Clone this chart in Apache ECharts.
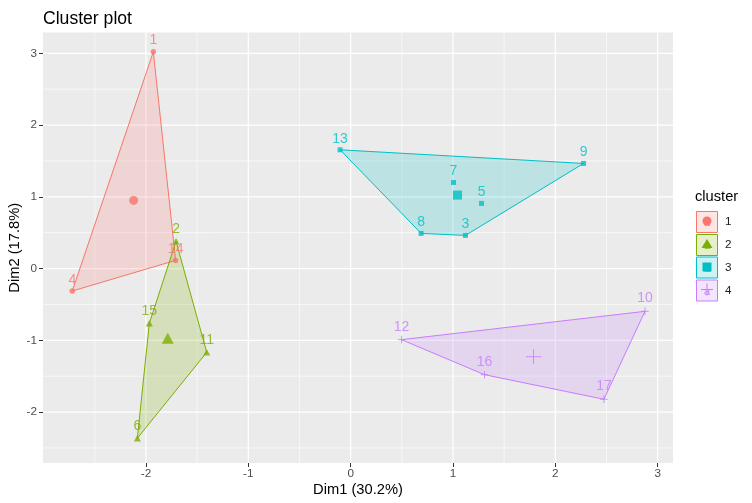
<!DOCTYPE html>
<html><head><meta charset="utf-8">
<script src="https://cdn.jsdelivr.net/npm/echarts@6/dist/echarts.min.js"></script>
<style>html,body{margin:0;padding:0;background:#fff}#c{width:752px;height:503px}</style>
</head><body><div id="c"></div>
<script>
// ---- data ----
const clusterIds = ['1', '2', '3', '4'];
const names1 = ['1', '4', '14'];
const x1 = [-1.928, -2.72, -1.71];
const y1 = [3.02, -0.313, 0.114];
const names2 = ['2', '15', '11', '6'];
const x2 = [-1.706, -1.967, -1.406, -2.084];
const y2 = [0.379, -0.763, -1.167, -2.365];
const names3 = ['13', '9', '7', '5', '8', '3'];
const x3 = [-0.103, 2.276, 1.005, 1.279, 0.689, 1.122];
const y3 = [1.655, 1.465, 1.20, 0.908, 0.49, 0.462];
const names4 = ['12', '10', '16', '17'];
const x4 = [0.497, 2.876, 1.308, 2.475];
const y4 = [-0.991, -0.596, -1.479, -1.822];
const centerX = [-2.12, -1.787, 1.044, 1.787];
const centerY = [0.95, -0.972, 1.024, -1.228];
const xTicks = [-2, -1, 0, 1, 2, 3];
const yTicks = [-2, -1, 0, 1, 2, 3];
const xMinor = [-2.5, -1.5, -0.5, 0.5, 1.5, 2.5];
const yMinor = [-2.5, -1.5, -0.5, 0.5, 1.5, 2.5];
const xTitle = 'Dim1 (30.2%)';
const yTitle = 'Dim2 (17.8%)';
const chartTitle = 'Cluster plot';
const legendTitle = 'cluster';

// ---- styling ----
const colors = ['#F8766D', '#7CAE00', '#00BFC4', '#C77CFF'];
const FONT = '"Liberation Sans", Arial, sans-serif';
const plusPath = 'path://M0,5L10,5M5,0L5,10';
const symbols = ['circle', 'triangle', 'rect', plusPath];
const smallSizes = [5.5, [7, 6.5], 5, 7.5];
const bigSizes = [9, [12, 11], 9, 15];

function alpha(hex, a) {
  const n = parseInt(hex.slice(1), 16);
  return 'rgba(' + (n >> 16 & 255) + ',' + (n >> 8 & 255) + ',' + (n & 255) + ',' + a + ')';
}
function hull(pts) {
  const p = pts.slice().sort((a, b) => a[0] - b[0] || a[1] - b[1]);
  const cross = (o, a, b) => (a[0] - o[0]) * (b[1] - o[1]) - (a[1] - o[1]) * (b[0] - o[0]);
  const lower = [];
  for (const q of p) { while (lower.length >= 2 && cross(lower[lower.length - 2], lower[lower.length - 1], q) <= 0) lower.pop(); lower.push(q); }
  const upper = [];
  for (let i = p.length - 1; i >= 0; i--) { const q = p[i]; while (upper.length >= 2 && cross(upper[upper.length - 2], upper[upper.length - 1], q) <= 0) upper.pop(); upper.push(q); }
  upper.pop(); lower.pop();
  return lower.concat(upper);
}

const groups = [[names1, x1, y1], [names2, x2, y2], [names3, x3, y3], [names4, x4, y4]];
const series = [];

// grid lines
function gridSeries(values, vertical, width) {
  return {
    type: 'custom', z: 1, silent: true,
    data: values.map(v => vertical ? [v, 0] : [0, v]),
    renderItem: (params, api) => {
      const cs = params.coordSys;
      if (vertical) {
        const px = api.coord([api.value(0), 0])[0];
        return { type: 'line', shape: { x1: px, y1: cs.y, x2: px, y2: cs.y + cs.height }, style: { stroke: '#FFFFFF', lineWidth: width } };
      }
      const py = api.coord([0, api.value(1)])[1];
      return { type: 'line', shape: { x1: cs.x, y1: py, x2: cs.x + cs.width, y2: py }, style: { stroke: '#FFFFFF', lineWidth: width } };
    }
  };
}
series.push(gridSeries(xMinor, true, 0.6), gridSeries(yMinor, false, 0.6), gridSeries(xTicks, true, 1.2), gridSeries(yTicks, false, 1.2));

groups.forEach((g, k) => {
  const [nm, xs, ys] = g;
  const pts = xs.map((x, i) => [x, ys[i]]);
  series.push({
    type: 'custom', z: 2, silent: true, data: pts,
    renderItem: (params, api) => {
      if (params.dataIndex !== 0) return;
      const h = hull(pts).map(p => api.coord(p));
      return { type: 'polygon', shape: { points: h }, style: { fill: alpha(colors[k], 0.2), stroke: colors[k], lineWidth: 1 } };
    }
  });
});

groups.forEach((g, k) => {
  const [nm, xs, ys] = g;
  const isPlus = k === 3;
  series.push({
    type: 'scatter', z: 3, silent: true,
    symbol: symbols[k], symbolSize: smallSizes[k],
    itemStyle: isPlus ? { color: 'rgba(0,0,0,0)', borderColor: colors[k], borderWidth: 1 } : { color: colors[k] },
    label: { show: true, position: 'top', distance: 1.5, formatter: '{b}', color: colors[k], fontSize: 14, fontFamily: FONT },
    data: nm.map((n, i) => ({ name: n, value: [xs[i], ys[i]] }))
  });
  series.push({
    type: 'scatter', z: 3, silent: true,
    symbol: symbols[k], symbolSize: bigSizes[k],
    itemStyle: isPlus ? { color: 'rgba(0,0,0,0)', borderColor: colors[k], borderWidth: 1 } : { color: colors[k] },
    data: [[centerX[k], centerY[k]]]
  });
});

// legend drawn as graphic
const graphic = [{ type: 'text', left: 695, top: 189, style: { text: legendTitle, font: '14.7px ' + FONT, fill: '#000' } }];
const keyY = [222, 245, 267.5, 290.5];
clusterIds.forEach((id, k) => {
  const cy = keyY[k], cx = 707;
  const children = [
    { type: 'rect', shape: { x: cx - 10.5, y: cy - 10.5, width: 21, height: 21 }, style: { fill: alpha(colors[k], 0.2), stroke: colors[k], lineWidth: 1 } },
    { type: 'text', x: cx, y: cy + 1, style: { text: 'a', font: '11px ' + FONT, fill: colors[k], align: 'center', verticalAlign: 'middle' } }
  ];
  if (k === 0) children.push({ type: 'circle', shape: { cx: cx, cy: cy - 1, r: 4.5 }, style: { fill: colors[k] } });
  if (k === 1) children.push({ type: 'polygon', shape: { points: [[cx, cy - 6], [cx - 5.5, cy + 3], [cx + 5.5, cy + 3]] }, style: { fill: colors[k] } });
  if (k === 2) children.push({ type: 'rect', shape: { x: cx - 4.5, y: cy - 5, width: 9, height: 9 }, style: { fill: colors[k] } });
  if (k === 3) children.push(
    { type: 'line', shape: { x1: cx - 6, y1: cy - 1, x2: cx + 6, y2: cy - 1 }, style: { stroke: colors[k], lineWidth: 1 } },
    { type: 'line', shape: { x1: cx, y1: cy - 7, x2: cx, y2: cy + 5 }, style: { stroke: colors[k], lineWidth: 1 } });
  children.push({ type: 'text', x: 725, y: cy, style: { text: id, font: '11.7px ' + FONT, fill: '#1A1A1A', verticalAlign: 'middle' } });
  graphic.push({ type: 'group', children: children });
});

const chart = echarts.init(document.getElementById('c'), null, { renderer: 'canvas' });
chart.setOption({
  animation: false,
  backgroundColor: '#FFFFFF',
  textStyle: { fontFamily: FONT },
  title: { text: chartTitle, left: 38, top: 5, textStyle: { fontSize: 17.6, fontWeight: 'normal', color: '#000', fontFamily: FONT } },
  grid: { left: 43, top: 32.5, right: 79, bottom: 40, show: true, backgroundColor: '#EBEBEB', borderWidth: 0, containLabel: false, outerBoundsMode: 'none' },
  xAxis: {
    type: 'value', min: -3.006, max: 3.15,
    name: xTitle, nameLocation: 'middle', nameGap: 19, nameMoveOverlap: false,
    nameTextStyle: { fontSize: 14.7, color: '#000', fontFamily: FONT },
    axisLine: { show: false, onZero: false }, splitLine: { show: false },
    axisTick: { show: true, customValues: xTicks, length: 4, lineStyle: { color: '#333333', width: 1 } },
    axisLabel: { customValues: xTicks, color: '#4D4D4D', fontSize: 11.7, margin: 5, fontFamily: FONT }
  },
  yAxis: {
    type: 'value', min: -2.71, max: 3.29,
    name: yTitle, nameLocation: 'middle', nameGap: 21, nameRotate: 90, nameMoveOverlap: false,
    nameTextStyle: { fontSize: 14.7, color: '#000', fontFamily: FONT },
    axisLine: { show: false, onZero: false }, splitLine: { show: false },
    axisTick: { show: true, customValues: yTicks, length: 4, lineStyle: { color: '#333333', width: 1 } },
    axisLabel: { customValues: yTicks, color: '#4D4D4D', fontSize: 11.7, margin: 6, fontFamily: FONT }
  },
  graphic: graphic,
  series: series
});
</script></body></html>
